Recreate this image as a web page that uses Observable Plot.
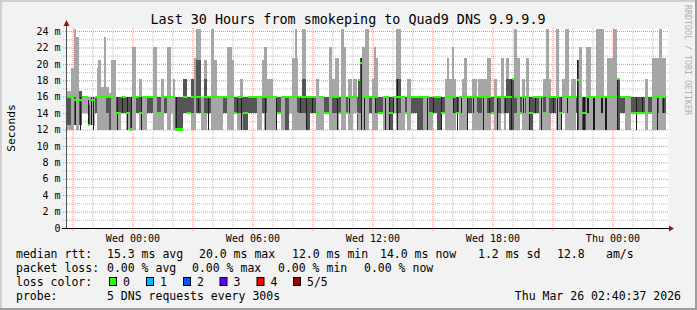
<!DOCTYPE html>
<html><head><meta charset="utf-8">
<script src="https://cdn.jsdelivr.net/npm/d3@7"></script>
<script src="https://cdn.jsdelivr.net/npm/@observablehq/plot@0.6"></script>
<style>
html,body{margin:0;padding:0;background:#f2f2f2;}
#chart{width:697px;height:310px;}
</style></head><body><div id="chart"></div>
<script>
// ---- time window ----
const startTime = new Date(Date.UTC(2026, 2, 24, 20, 40, 37));
const endTime = new Date(Date.UTC(2026, 2, 26, 2, 40, 37));
const spanMinutes = 1800;
const stepMinutes = 5;

// ---- smoke segments (minutes since start, values in ms) ----
const tMin = [0,14,24,30,38,47,65,71,86,92,96,104,113,119,128,134,149,164,179,191,197,209,218,227,242,260,272,284,293,302,314,320,326,350,362,374,383,389,404,413,422,434,443,452,470,482,497,503,512,521,530,545,572,587,593,602,620,632,644,656,668,677,686,692,695,707,719,731,749,758,773,788,797,806,818,824,833,839,845,857,860,872,875,881,887,896,908,917,923,929,935,950,968,980,989,1004,1016,1022,1034,1052,1070,1088,1100,1112,1124,1136,1142,1148,1157,1163,1169,1178,1187,1193,1202,1217,1232,1235,1247,1262,1274,1283,1292,1304,1313,1319,1328,1337,1343,1352,1361,1367,1376,1379,1388,1400,1418,1430,1439,1448,1454,1469,1478,1487,1496,1508,1514,1529,1532,1538,1547,1559,1574,1589,1613,1622,1640,1652,1661,1676,1694,1736,1745,1757,1772,1778,1787];
const pMin = [12,12,12.5,12,12.5,14,12.5,12.5,14,12, 12,12,12,12,12,12,12,14,12,12, 12,14,12,12,14,12,12,12,14,12, 14,12,12,14,14,12,12,14,12,12, 14,12,12,12,14,12,12,14,12,12, 12,14,12,14,12,12,12,14,12,12, 14,12,12,12,12,12,12,14,12,12, 14,12,12,12,14,12,12,14,12,12, 14,12,12,12,12,12,14,12,12,12, 14,12,12,14,12,12,14,12,14,12, 12,12,14,12,14,12,12,12,12,12, 14,12,12,12,14,12,12,12,12,12, 14,12,12,14,12,14,12,12,12,12, 14,12,12,12,12,14,12,12,12,12, 14,12,12,14,12,12,12,14,12,12, 12,12,12,12,12,12,12,12,14,12, 14,12,14,12,12,12,12];
const pLow = [12.5,16,12.5,16,12.5,16,12.5,16,14,16, 16,16,16,14,12,16,14,14,14,12, 16,14,14,16,14,16,14,16,14,16, 16,16,12,14,14,14,16,14,16,14, 14,16,16,16,14,16,16,14,14,14, 12,14,16,14,14,16,16,14,16,12, 16,16,16,14,14,14,12,14,16,16, 14,16,14,14,14,16,16,14,16,16, 16,12,14,14,16,16,14,16,16,14, 14,16,12,16,14,16,14,16,14,12, 16,14,14,12,14,16,16,16,16,14, 14,16,16,16,14,16,14,14,16,14, 14,16,14,16,14,14,12,12,14,16, 14,16,14,16,12,14,16,14,16,14, 14,16,14,16,16,16,16,14,12,16, 12,16,16,16,16,16,16,12,14,16, 14,16,14,16,14,16,14];
const pMed = [16,16,15.6,15.6,15.6,16,12.5,15.6,16,16, 16,16,16,16,16,16,14,16,14,12, 16,16,14,16,16,16,14,16,16,16, 16,16,12,16,14,16,16,16,14,16, 16,16,16,16,16,16,16,14,16,16, 14,16,16,16,16,16,16,14,16,16, 16,16,16,14,16,16,16,16,14,16, 14,16,16,16,14,16,16,14,16,16, 16,14,18,20.1,16,16,16,16,16,16, 14,16,14,16,16,16,14,16,16,16, 16,14,16,16,14,16,16,16,16,16, 14,16,16,16,16,16,14,16,16,16, 14,16,16,16,16,16,16,18.2,16,16, 14,16,16,16,14,16,16,14,16,16, 16,16,14,16,16,16,16,16,18,16, 14,16,16,16,16,16,16,18.2,16,16, 14,16,14,16,16,16,16];
const pHigh = [16,16,16,16,16.7,16,15,16,16,16, 16,16,16,16,16,16,16,16,16,16, 16,16,16,16,16,16,16,16,16,16, 16,16,16,18.2,16,18.2,16,20.5,16,18.2, 16,16,16,16,16,16,16,16,16,16, 16,16,16,16,16,16,16,16,16,16, 16,16,16,16,16,18.2,16,16,16,16, 16,16,16,16,16,16,16,16,16,16, 16,16,18.2,20.7,16,16,16,16,16,16, 16,16,16,16,18.2,16,16,16,16,16, 16,16,16,16,16,16,16,16,16,16, 16,16,16,16,16,16,16,16,16,16, 16,16,16,16,16,18.2,18.2,18.2,16,16, 16,16,16,16,16,16,16,16,16,16, 16,16,16,16,16,16,16,16,20.5,16, 16,16,16,16,16,16,16,18.2,16,16, 16,16,16,16,16,16,16];
const pMax = [16.7,19.5,24.2,23.3,16.7,16,16,16,16,19.5, 20.5,17.2,23.3,17.2,16.5,20.5,16,16,16,16, 22,16,18.2,16,16,22,16,18.2,16,22, 16,18.2,16,18.2,16,18.2,20.7,24.2,16,20.5, 16,24.2,20.5,16,16,22,20.5,16,16,18.2, 16,16,16,20.5,22,18.2,16,16,16,16, 16,20.7,24.2,20.7,16,24.2,16,16,18.2,16, 16,22,18.2,20.7,16,24.3,22,16,18.2,16, 18.2,16,18.2,20.7,22,24.2,16,18.2,22,20.7, 16,16,16,16,24.3,16,16,18.2,16,16, 16,16,16,16,16,18.2,20.7,18.2,22,18.2, 16,16,18.2,20.7,16,18.2,16,18.2,18.2,20.7, 16,18.2,16,20.7,16,20.7,18.2,18.2,24.3,20.7, 16,18.2,16,20.7,16,16,16,18.2,24.2,18.2, 16,24.3,16,18.2,24.2,16,18.2,16,20.5,22, 16,22,16,24.2,16,20.7,24.3,18.2,16,16, 16,18.2,16,20.7,20.7,24.2,20.7];

// ---- tight-spread steps (dark cores) ----
const tightMin = [26,41,65,74,80,152,167,182,194,224,329,395,425,512,524,596,629,701,719,737,812,848,884,893,926,956,968,980,992,1082,1100,1124,1160,1172,1184,1202,1220,1250,1268,1292,1316,1334,1370,1388,1406,1424,1460,1472,1484,1502,1532,1552,1564,1582,1606,1618,1652,1709,1727,1772,1790];
const tightLo = [12.5,12,12.5,12.5,12, 12,14,12,12,12, 12,14,12,14,12, 12,12,14,12,14, 12,14,12,12,14, 12,12,14,12,12, 14,12,14,12,14, 12,14,12,14,12, 14,12,14,12,14, 12,14,12,12,14, 12,12,14,12,14, 12,12,12,14,12, 14];
const tightHi = [15.5,16,15.6,16,16, 16,16,16,16,16, 16,16,16,16,16, 16,16,16,16,16, 16,16,20.7,16,16, 16,16,16,18.2,16, 16,16,16,16,16, 16,16,16,16,16, 16,18.2,16,16,16, 16,16,16,16,16, 20.5,16,16,16,16, 16,18.2,16,16,16, 16];

// ---- axis ticks ----
const yTicks = [0,2,4,6,8,10,12,14,16,18,20,22,24];
const dayNames = ["Sun","Mon","Tue","Wed","Thu","Fri","Sat"];

// ---- legend texts ----
const titleText = "Last 30 Hours from smokeping to Quad9 DNS 9.9.9.9";
const rowLabels = ["median rtt:", "packet loss:", "loss color:", "probe:"];
const rttStats = ["15.3 ms avg", "20.0 ms max", "12.0 ms min", "14.0 ms now", "1.2 ms sd", "12.8", "am/s"];
const lossStats = ["0.00 % avg", "0.00 % max", "0.00 % min", "0.00 % now"];
const lossLabels = ["0", "1", "2", "3", "4", "5/5"];
const lossColors = ["#26ff00", "#00b8ff", "#0059ff", "#5e00ff", "#ff0000", "#a10000"];
const probeText = "5 DNS requests every 300s";
const stampText = "Thu Mar 26 02:40:37 2026";

const at = m => new Date(startTime.getTime() + m * 60000);
const segs = tMin.map((m, i) => ({
  t0: at(m), t1: at(i + 1 < tMin.length ? tMin[i + 1] : spanMinutes),
  lo: pMin[i], dlo: pLow[i], med: pMed[i], dhi: pHigh[i], hi: pMax[i]
}));
const tight = tightMin.map((m, i) => ({t0: at(m), t1: at(m + stepMinutes), lo: tightLo[i], hi: tightHi[i]}));

const hours = d3.utcHour.range(startTime, endTime);
const majorX = hours.filter(d => d.getUTCHours() % 3 === 0);
const minorX = hours.filter(d => d.getUTCHours() % 3 !== 0);
const labelX = hours.filter(d => d.getUTCHours() % 6 === 0);
const majorY = yTicks.filter(v => v > 0);
const minorY = yTicks.filter(v => v < 24).map(v => v + 1);
const pad2 = n => String(n).padStart(2, "0");

const plot = Plot.plot({
  width: 697, height: 310,
  marginLeft: 66, marginRight: 31, marginTop: 28, marginBottom: 82,
  style: {background: "#f2f2f2", fontFamily: "'DejaVu Sans Mono', monospace", fontSize: "10px", color: "#000"},
  x: {type: "utc", domain: [startTime, endTime]},
  y: {domain: [0, 24.37]},
  marks: [
    Plot.frame({fill: "white", stroke: null, insetRight: -2}),
    Plot.ruleY(minorY, {stroke: "#bdbdbd", strokeDasharray: "1,1", insetLeft: -3, insetRight: -2}),
    Plot.ruleX(minorX, {stroke: "#bdbdbd", strokeDasharray: "1,1"}),
    Plot.ruleY(majorY, {stroke: "#ff8080", strokeDasharray: "1,1", insetLeft: -3, insetRight: -2}),
    Plot.ruleX(majorX, {stroke: "#ff8080", strokeDasharray: "1,1", insetBottom: -4}),
    Plot.rect(segs, {x1: "t0", x2: "t1", y1: "lo", y2: "hi", fill: "#a6a6a6", shapeRendering: "crispEdges"}),
    Plot.rect(segs.filter(d => d.dhi > d.dlo), {x1: "t0", x2: "t1", y1: "dlo", y2: "dhi", fill: "#555555", shapeRendering: "crispEdges"}),
    Plot.rect(tight, {x1: "t0", x2: "t1", y1: "lo", y2: "hi", fill: "#1c1c1c", shapeRendering: "crispEdges"}),
    Plot.rect(segs, {x1: "t0", x2: "t1", y1: d => d.med - 0.13, y2: d => d.med + 0.13, fill: "#26ff00", shapeRendering: "crispEdges"}),
    Plot.axisY({ticks: yTicks, tickFormat: d => d === 0 ? "0" : `${d} m`, tickSize: 0, tickPadding: 6, label: null}),
    Plot.axisX({ticks: labelX, tickFormat: d => `${dayNames[d.getUTCDay()]} ${pad2(d.getUTCHours())}:${pad2(d.getUTCMinutes())}`, tickSize: 0, tickPadding: 6, label: null})
  ]
});
document.getElementById("chart").appendChild(plot);

// ---- overlays: axes lines, arrows, texts, border ----
const svg = d3.select(plot);
const X = plot.scale("x"), Y = plot.scale("y");
const xa = Math.round(X.apply(startTime)) + 0.5;
const ya = Math.round(Y.apply(0)) + 0.5;
const xe = X.apply(endTime);
svg.append("line").attr("x1", 62).attr("x2", xe + 3).attr("y1", ya).attr("y2", ya).attr("stroke", "#000");
svg.append("line").attr("x1", xa).attr("x2", xa).attr("y1", ya).attr("y2", 24).attr("stroke", "#555");
svg.append("path").attr("d", `M${xa - 3},${26} L${xa},${20} L${xa + 3},${26} Z`).attr("fill", "#8e1a1a");
svg.append("path").attr("d", `M${xe + 3},${ya - 3} L${xe + 8},${ya} L${xe + 3},${ya + 3} Z`).attr("fill", "#8e1a1a");

const font = "'DejaVu Sans Mono', monospace";
svg.append("text").attr("x", 348).attr("y", 24).attr("text-anchor", "middle")
  .attr("font-family", font).attr("font-size", "13.4px").attr("fill", "#000").text(titleText);
svg.append("text").attr("transform", "translate(15,128) rotate(-90)").attr("text-anchor", "middle")
  .attr("font-family", font).attr("font-size", "11.3px").attr("fill", "#000").text("Seconds");
svg.append("text").attr("transform", "translate(685,5) rotate(90)").attr("text-anchor", "start")
  .attr("font-family", font).attr("font-size", "8.3px").attr("fill", "#b0b0b0").text("RRDTOOL / TOBI OETIKER");

const lf = "11.5px";
const rowY = [258, 272, 286, 300];
const addText = (x, y, s, anchor = "start") => svg.append("text").attr("x", x).attr("y", y)
  .attr("text-anchor", anchor).attr("font-family", font).attr("font-size", lf).attr("fill", "#000")
  .attr("xml:space", "preserve").text(s);
rowLabels.forEach((s, i) => addText(16, rowY[i], s));
const rttX = [107, 199, 292, 380, 478, 557, 606];
rttStats.forEach((s, i) => addText(rttX[i], rowY[0], s));
const lossX = [107, 192, 278, 364];
lossStats.forEach((s, i) => addText(lossX[i], rowY[1], s));
const boxX = [109, 146, 183, 219.5, 256.5, 293];
lossLabels.forEach((s, i) => {
  svg.append("rect").attr("x", boxX[i] + 0.5).attr("y", rowY[2] - 8.5).attr("width", 7).attr("height", 8)
    .attr("fill", lossColors[i]).attr("stroke", "#000").attr("stroke-width", 1);
  addText(boxX[i] + 14, rowY[2], s);
});
addText(107, rowY[3], probeText);
addText(681, rowY[3], stampText, "end");

// 3D border
svg.append("line").attr("x1", 0).attr("x2", 697).attr("y1", 1).attr("y2", 1).attr("stroke", "#cfcfcf").attr("stroke-width", 2);
svg.append("line").attr("x1", 1).attr("x2", 1).attr("y1", 0).attr("y2", 310).attr("stroke", "#cfcfcf").attr("stroke-width", 2);
svg.append("line").attr("x1", 0).attr("x2", 697).attr("y1", 309).attr("y2", 309).attr("stroke", "#9d9d9d").attr("stroke-width", 2);
svg.append("line").attr("x1", 696).attr("x2", 696).attr("y1", 0).attr("y2", 310).attr("stroke", "#9d9d9d").attr("stroke-width", 2);
</script></body></html>
